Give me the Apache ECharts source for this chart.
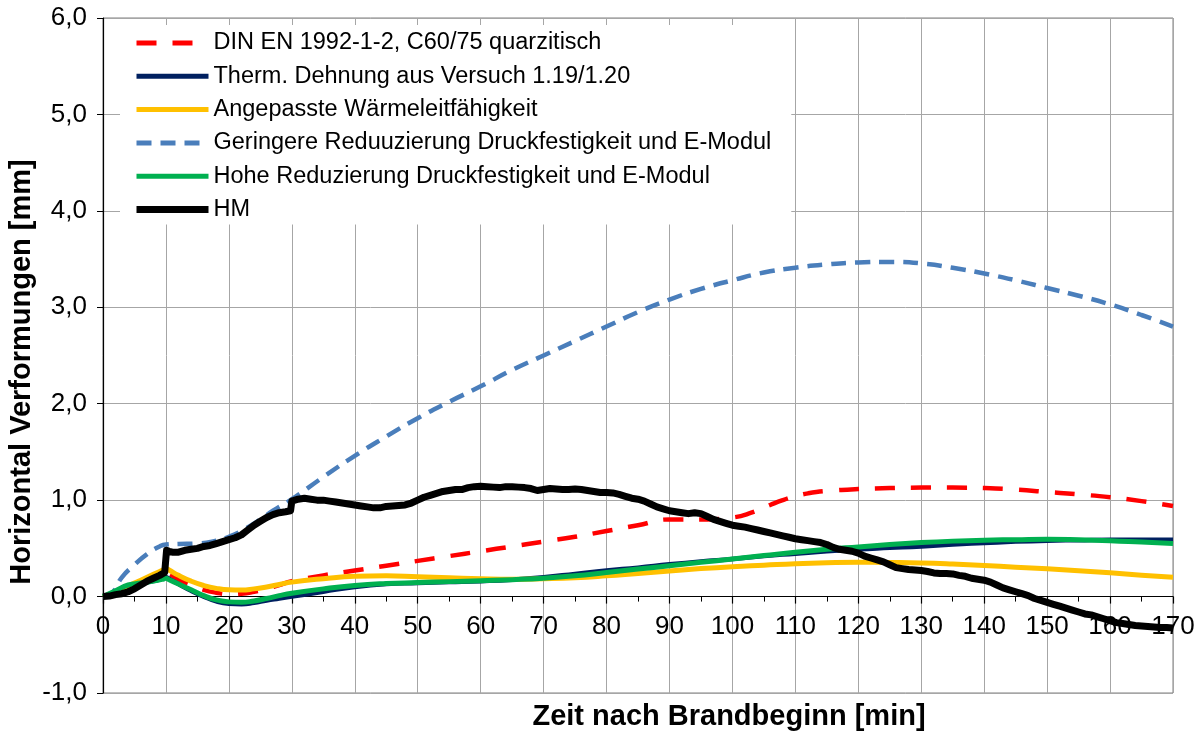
<!DOCTYPE html>
<html>
<head>
<meta charset="utf-8">
<script src="https://cdn.jsdelivr.net/npm/echarts@6/dist/echarts.min.js"></script>
<style>
  html, body { margin: 0; padding: 0; background: #ffffff; }
  #chart { width: 1204px; height: 738px; }
</style>
</head>
<body>
<div id="chart"></div>
<script>
const FONT = "'Liberation Sans', Arial, sans-serif";

// Legend / series names
const seriesNames = [
  'DIN EN 1992-1-2, C60/75 quarzitisch',
  'Therm. Dehnung aus Versuch 1.19/1.20',
  'Angepasste Wärmeleitfähigkeit',
  'Geringere Reduuzierung Druckfestigkeit und E-Modul',
  'Hohe Reduzierung Druckfestigkeit und E-Modul',
  'HM'
];

// Axis settings
const xTicks = { min: 0, max: 170, step: 10 };
const yTicks = { min: -1, max: 6, step: 1 };
const xTitle = 'Zeit nach Brandbeginn [min]';
const yTitle = 'Horizontal Verformungen [mm]';

// [time in min, horizontal deformation in mm]
const dinEN = [
  [0,0],[2,0.05],[4,0.1],[6,0.15],[8,0.2],[9.5,0.24],[10,0.25],[10.5,0.235],[12,0.18],[14,0.12],
  [16,0.07],[18,0.04],[20,0.025],[22,0.03],[24,0.05],[26,0.08],[28,0.12],[30,0.16],[35,0.22],
  [40,0.27],[45,0.32],[50,0.37],[55,0.42],[60,0.47],[65,0.52],[70,0.57],[75,0.62],[80,0.68],
  [85,0.74],[90,0.8],[95,0.8],[100,0.82],[103,0.87],[106,0.95],[108,1.0],[110,1.04],[112,1.07],
  [115,1.095],[120,1.115],[125,1.125],[130,1.13],[135,1.13],[140,1.125],[145,1.11],[150,1.085],
  [155,1.06],[160,1.03],[165,0.99],[170,0.94]
];

const thermDehnung = [
  [0,0],[2,0.05],[4,0.11],[6,0.14],[8,0.16],[9.5,0.19],[10,0.2],[10.5,0.185],[12,0.13],[14,0.06],
  [16,0.0],[18,-0.05],[20,-0.075],[22,-0.08],[24,-0.065],[26,-0.04],[28,-0.02],[30,0.0],[35,0.05],
  [40,0.1],[45,0.13],[50,0.14],[55,0.15],[60,0.16],[65,0.175],[70,0.2],[75,0.235],[80,0.27],
  [85,0.3],[90,0.335],[95,0.365],[100,0.39],[105,0.42],[110,0.445],[115,0.47],[120,0.49],
  [125,0.505],[130,0.52],[135,0.54],[140,0.555],[145,0.57],[150,0.58],[155,0.585],[160,0.59],
  [165,0.59],[170,0.59]
];

const waermeleit = [
  [0,0],[2,0.05],[4,0.11],[6,0.17],[8,0.23],[9.5,0.275],[10,0.29],[10.5,0.275],[12,0.22],[14,0.16],
  [16,0.115],[18,0.085],[20,0.07],[22,0.068],[24,0.08],[26,0.1],[28,0.125],[30,0.15],[35,0.185],
  [40,0.21],[45,0.215],[50,0.205],[55,0.195],[60,0.185],[65,0.18],[70,0.185],[75,0.195],[80,0.215],
  [85,0.24],[90,0.265],[95,0.29],[100,0.31],[105,0.325],[110,0.34],[115,0.35],[120,0.355],
  [125,0.353],[130,0.348],[135,0.337],[140,0.322],[145,0.305],[150,0.288],[155,0.268],[160,0.246],
  [165,0.222],[170,0.2]
];

const geringeReduz = [
  [0,0],[1.5,0.04],[3,0.2],[5,0.33],[7,0.44],[9,0.52],[10,0.54],[12,0.545],[15,0.55],[18,0.58],
  [20,0.62],[22,0.68],[25,0.8],[27,0.89],[30,1.01],[35,1.24],[40,1.46],[45,1.66],[50,1.85],
  [55,2.02],[60,2.18],[65,2.35],[70,2.5],[75,2.65],[80,2.8],[85,2.95],[90,3.08],[95,3.19],
  [100,3.28],[105,3.36],[110,3.41],[115,3.445],[120,3.465],[125,3.47],[130,3.455],[135,3.41],
  [140,3.35],[145,3.28],[150,3.2],[155,3.12],[160,3.03],[165,2.92],[170,2.8]
];

const hoheReduz = [
  [0,0],[2,0.06],[4,0.12],[6,0.14],[8,0.16],[9.5,0.18],[10,0.19],[10.5,0.175],[12,0.13],[14,0.07],
  [16,0.01],[18,-0.035],[20,-0.055],[22,-0.06],[24,-0.045],[26,-0.02],[28,0.01],[30,0.035],[35,0.08],
  [40,0.115],[45,0.135],[50,0.145],[55,0.155],[60,0.165],[65,0.175],[70,0.19],[75,0.215],[80,0.25],
  [85,0.285],[90,0.32],[95,0.355],[100,0.39],[105,0.425],[110,0.46],[115,0.49],[120,0.515],
  [125,0.54],[130,0.56],[135,0.575],[140,0.585],[145,0.59],[150,0.595],[155,0.59],[160,0.58],
  [165,0.565],[170,0.55]
];

const hm = [
  [0,0],[1,0.005],[2,0.02],[3,0.03],[4,0.05],[5,0.08],[6,0.12],[7,0.16],[8,0.19],[9,0.22],
  [9.8,0.25],[10,0.26],[10.1,0.48],[10.5,0.47],[11,0.46],[12,0.46],[13,0.48],[14,0.49],[15,0.5],
  [16,0.52],[17,0.53],[18,0.55],[19,0.57],[20,0.59],[21,0.61],[22,0.64],[23,0.69],[24,0.74],
  [25,0.78],[26,0.82],[27,0.85],[28,0.87],[29,0.88],[29.8,0.89],[30,0.99],[31,1.01],[32,1.02],
  [33,1.01],[34,1.0],[35,1.0],[36,0.99],[37,0.98],[38,0.97],[39,0.96],[40,0.95],[41,0.94],
  [42,0.93],[43,0.92],[44,0.92],[45,0.935],[46,0.94],[47,0.945],[48,0.95],[49,0.97],[50,1.0],
  [51,1.03],[52,1.05],[53,1.07],[54,1.09],[55,1.1],[56,1.11],[57,1.11],[58,1.13],[59,1.14],
  [60,1.145],[61,1.14],[62,1.135],[63,1.13],[64,1.14],[65,1.14],[66,1.135],[67,1.13],[68,1.12],
  [69,1.1],[70,1.11],[71,1.12],[72,1.115],[73,1.11],[74,1.11],[75,1.115],[76,1.11],[77,1.1],
  [78,1.09],[79,1.08],[80,1.08],[81,1.075],[82,1.06],[83,1.04],[84,1.02],[85,1.01],[86,0.99],
  [87,0.96],[88,0.93],[89,0.91],[90,0.89],[91,0.88],[92,0.87],[93,0.86],[94,0.87],[95,0.86],
  [96,0.83],[97,0.8],[98,0.78],[99,0.76],[100,0.74],[101,0.73],[102,0.72],[103,0.705],[104,0.69],
  [105,0.675],[106,0.66],[107,0.645],[108,0.63],[109,0.615],[110,0.6],[111,0.59],[112,0.58],
  [113,0.57],[114,0.56],[115,0.54],[116,0.51],[117,0.49],[118,0.48],[119,0.47],[120,0.45],
  [121,0.42],[122,0.4],[123,0.38],[124,0.36],[125,0.33],[126,0.3],[127,0.29],[128,0.28],
  [129,0.275],[130,0.27],[131,0.26],[132,0.245],[133,0.24],[134,0.24],[135,0.235],[136,0.22],
  [137,0.21],[138,0.19],[139,0.18],[140,0.17],[141,0.15],[142,0.12],[143,0.09],[144,0.07],
  [145,0.05],[146,0.03],[147,0.01],[148,-0.02],[149,-0.04],[150,-0.06],[151,-0.08],[152,-0.1],
  [153,-0.12],[154,-0.14],[155,-0.16],[156,-0.18],[157,-0.19],[158,-0.21],[159,-0.23],[160,-0.25],
  [161,-0.27],[162,-0.28],[163,-0.29],[164,-0.3],[165,-0.305],[166,-0.31],[167,-0.315],
  [168,-0.32],[169,-0.32],[170,-0.325]
];

const seriesData = [dinEN, thermDehnung, waermeleit, geringeReduz, hoheReduz, hm];

// Line styles per series (same order as names)
const lineStyles = [
  { color: '#ff0000', width: 4.5, type: [20, 16] },
  { color: '#002060', width: 4.5, type: 'solid' },
  { color: '#ffc000', width: 5, type: 'solid' },
  { color: '#4a7ebb', width: 4.5, type: [15, 9] },
  { color: '#00b050', width: 5, type: 'solid' },
  { color: '#000000', width: 7, type: 'solid' }
];
const legendWidths = [5, 5, 5, 5, 5, 7];

// Plot frame inside the canvas
const gridBox = { left: 103, right: 31, top: 18, bottom: 45 };
const plotHeight = 738 - gridBox.top - gridBox.bottom;
// The labelled time axis runs along the zero line of the deformation axis
const zeroOffset = -plotHeight * (0 - yTicks.min) / (yTicks.max - yTicks.min);

const chart = echarts.init(document.getElementById('chart'), null, { renderer: 'canvas' });

const series = seriesNames.map((name, i) => ({
  name: name,
  type: 'line',
  xAxisIndex: 0,
  data: seriesData[i],
  symbol: 'none',
  showSymbol: false,
  smooth: i === 5 ? false : 0.5,
  lineStyle: Object.assign({ cap: 'butt', join: 'round' }, lineStyles[i]),
  itemStyle: { color: lineStyles[i].color },
  emphasis: { disabled: true },
  z: 2 + i * 0.01
}));

const fmtComma = v => v.toFixed(1).replace('.', ',');

chart.setOption({
  animation: false,
  backgroundColor: '#ffffff',
  textStyle: { fontFamily: FONT },
  grid: Object.assign({}, gridBox, {
    show: true, borderColor: '#7f7f7f', borderWidth: 1, backgroundColor: 'transparent'
  }),
  xAxis: [
    {
      type: 'value', position: 'bottom',
      min: xTicks.min, max: xTicks.max, interval: xTicks.step,
      axisLine: { show: false, onZero: false },
      axisTick: { show: false },
      axisLabel: { show: false },
      splitLine: { show: true, lineStyle: { color: '#a6a6a6', width: 1 } }
    },
    {
      type: 'value', position: 'bottom', offset: zeroOffset,
      min: xTicks.min, max: xTicks.max, interval: xTicks.step,
      axisLine: { show: true, onZero: false, lineStyle: { color: '#000000', width: 1.2 } },
      axisTick: { show: true, inside: false, length: 7, lineStyle: { color: '#000000', width: 1.2 } },
      minorTick: { show: true, splitNumber: 2, length: 5, lineStyle: { color: '#000000', width: 1 } },
      splitLine: { show: false },
      axisLabel: { fontFamily: FONT, fontSize: 26, color: '#000000', margin: 17 }
    }
  ],
  yAxis: {
    type: 'value',
    min: yTicks.min, max: yTicks.max, interval: yTicks.step,
    axisLine: { show: true, onZero: false, lineStyle: { color: '#000000', width: 1.2 } },
    axisTick: { show: true, inside: false, length: 6, lineStyle: { color: '#000000', width: 1 } },
    splitLine: { show: true, lineStyle: { color: '#a6a6a6', width: 1 } },
    axisLabel: { fontFamily: FONT, fontSize: 26, color: '#000000', margin: 16, formatter: fmtComma }
  },
  legend: {
    orient: 'vertical',
    left: 120, top: 25,
    padding: [6, 20, 3, 13],
    itemWidth: 72, itemHeight: 14, itemGap: 9.3,
    backgroundColor: '#ffffff',
    itemStyle: { opacity: 0, borderWidth: 0 },
    textStyle: { fontFamily: FONT, fontSize: 23.5, color: '#000000', lineHeight: 24 },
    data: seriesNames.map((n, i) => ({ name: n, lineStyle: { width: legendWidths[i] } })),
    selectedMode: false
  },
  graphic: [
    {
      type: 'text', x: 22, y: 372, rotation: Math.PI / 2,
      style: { text: yTitle, font: 'bold 29px ' + FONT, fill: '#000000', align: 'center', verticalAlign: 'middle' }
    },
    {
      type: 'text', x: 729, y: 717,
      style: { text: xTitle, font: 'bold 29px ' + FONT, fill: '#000000', align: 'center', verticalAlign: 'middle' }
    }
  ],
  series: series
});
</script>
</body>
</html>
